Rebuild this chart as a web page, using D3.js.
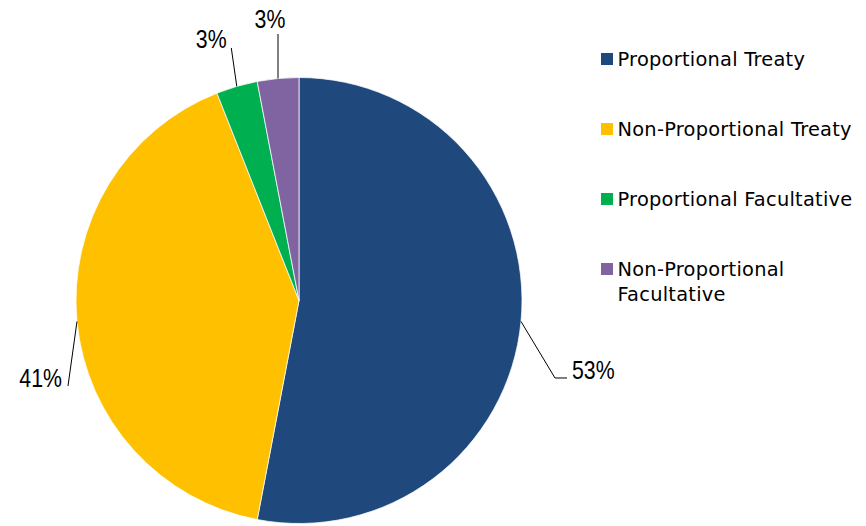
<!DOCTYPE html>
<html>
<head>
<meta charset="utf-8">
<script src="https://cdn.jsdelivr.net/npm/d3@7"></script>
<style>
  html, body { margin: 0; padding: 0; background: #fff; }
  svg { display: block; }
</style>
</head>
<body>
<svg id="chart" width="866" height="526"></svg>
<script>
// Reinsurance premium split by treaty / facultative type (percent)
const categories = [
  "Proportional Treaty",
  "Non-Proportional Treaty",
  "Proportional Facultative",
  "Non-Proportional Facultative"
];
const shares = [53, 41, 3, 3];
const sliceColors = ["#1F497D", "#FFC000", "#00B050", "#8064A2"];
// legend text broken into display lines
const legendLines = [
  ["Proportional Treaty"],
  ["Non-Proportional Treaty"],
  ["Proportional Facultative"],
  ["Non-Proportional", "Facultative"]
];

// leader-line layout: bend from the slice's outer midpoint, horizontal tail,
// and where the value label sits relative to the line end
const leaderBend = [[34, 56.5], [-9, 64.5], [-5.5, -38.4], [0, -44.5]];
const leaderTail = [12, 0, 0, 0];
const labelAnchor = ["start", "end", "end", "middle"];
const labelShift = [[5, 1], [-6, 1], [-4.6, 0.5], [-8, -6]];

const W = 866, H = 526;
const cx = 299, cy = 300.5, radius = 223;
const narrow = 0.82; // horizontal squeeze for the condensed value labels

const svg = d3.select("#chart");
const g = svg.append("g").attr("transform", `translate(${cx},${cy})`);

const pie = d3.pie().sort(null).value(d => d);
const arcs = pie(shares);
const arc = d3.arc().innerRadius(0).outerRadius(radius);
const color = d3.scaleOrdinal().domain(categories).range(sliceColors);

g.selectAll("path.slice")
  .data(arcs)
  .join("path")
  .attr("class", "slice")
  .attr("d", arc)
  .attr("fill", (d, i) => color(categories[i]))
  .attr("stroke", "#ffffff")
  .attr("stroke-width", 0.75);

// leader lines and value labels
const edge = d3.arc().innerRadius(radius).outerRadius(radius);
arcs.forEach((d, i) => {
  const [ex, ey] = edge.centroid(d);
  const bx = ex + leaderBend[i][0], by = ey + leaderBend[i][1];
  const tx = bx + leaderTail[i];
  const pts = [[ex, ey], [bx, by], [tx, by]];
  g.append("path")
    .attr("d", d3.line()(pts))
    .attr("fill", "none")
    .attr("stroke", "#000")
    .attr("stroke-width", 1);
  const lx = tx + labelShift[i][0], ly = by + labelShift[i][1];
  g.append("text")
    .attr("transform", `translate(${lx},${ly}) scale(${narrow},1)`)
    .attr("text-anchor", labelAnchor[i])
    .attr("font-family", "'Liberation Sans', Arial, sans-serif")
    .attr("font-size", 26)
    .attr("fill", "#000")
    .text(d3.format(".0f")(d.data) + "%");
});

// legend
const legend = svg.append("g").attr("transform", "translate(601,0)");
const rowY = d3.scalePoint().domain(categories).range([66, 276]);
categories.forEach((c, i) => {
  const base = rowY(c);
  legend.append("rect")
    .attr("x", 0)
    .attr("y", base - 13)
    .attr("width", 12)
    .attr("height", 12)
    .attr("fill", color(c));
  const t = legend.append("text")
    .attr("font-family", "'DejaVu Sans', Verdana, sans-serif")
    .attr("font-size", 19.4)
    .attr("letter-spacing", 0.25)
    .attr("fill", "#000");
  legendLines[i].forEach((ln, k) => {
    t.append("tspan")
      .attr("x", 16.5)
      .attr("y", base + k * 25)
      .text(ln);
  });
});
</script>
</body>
</html>
